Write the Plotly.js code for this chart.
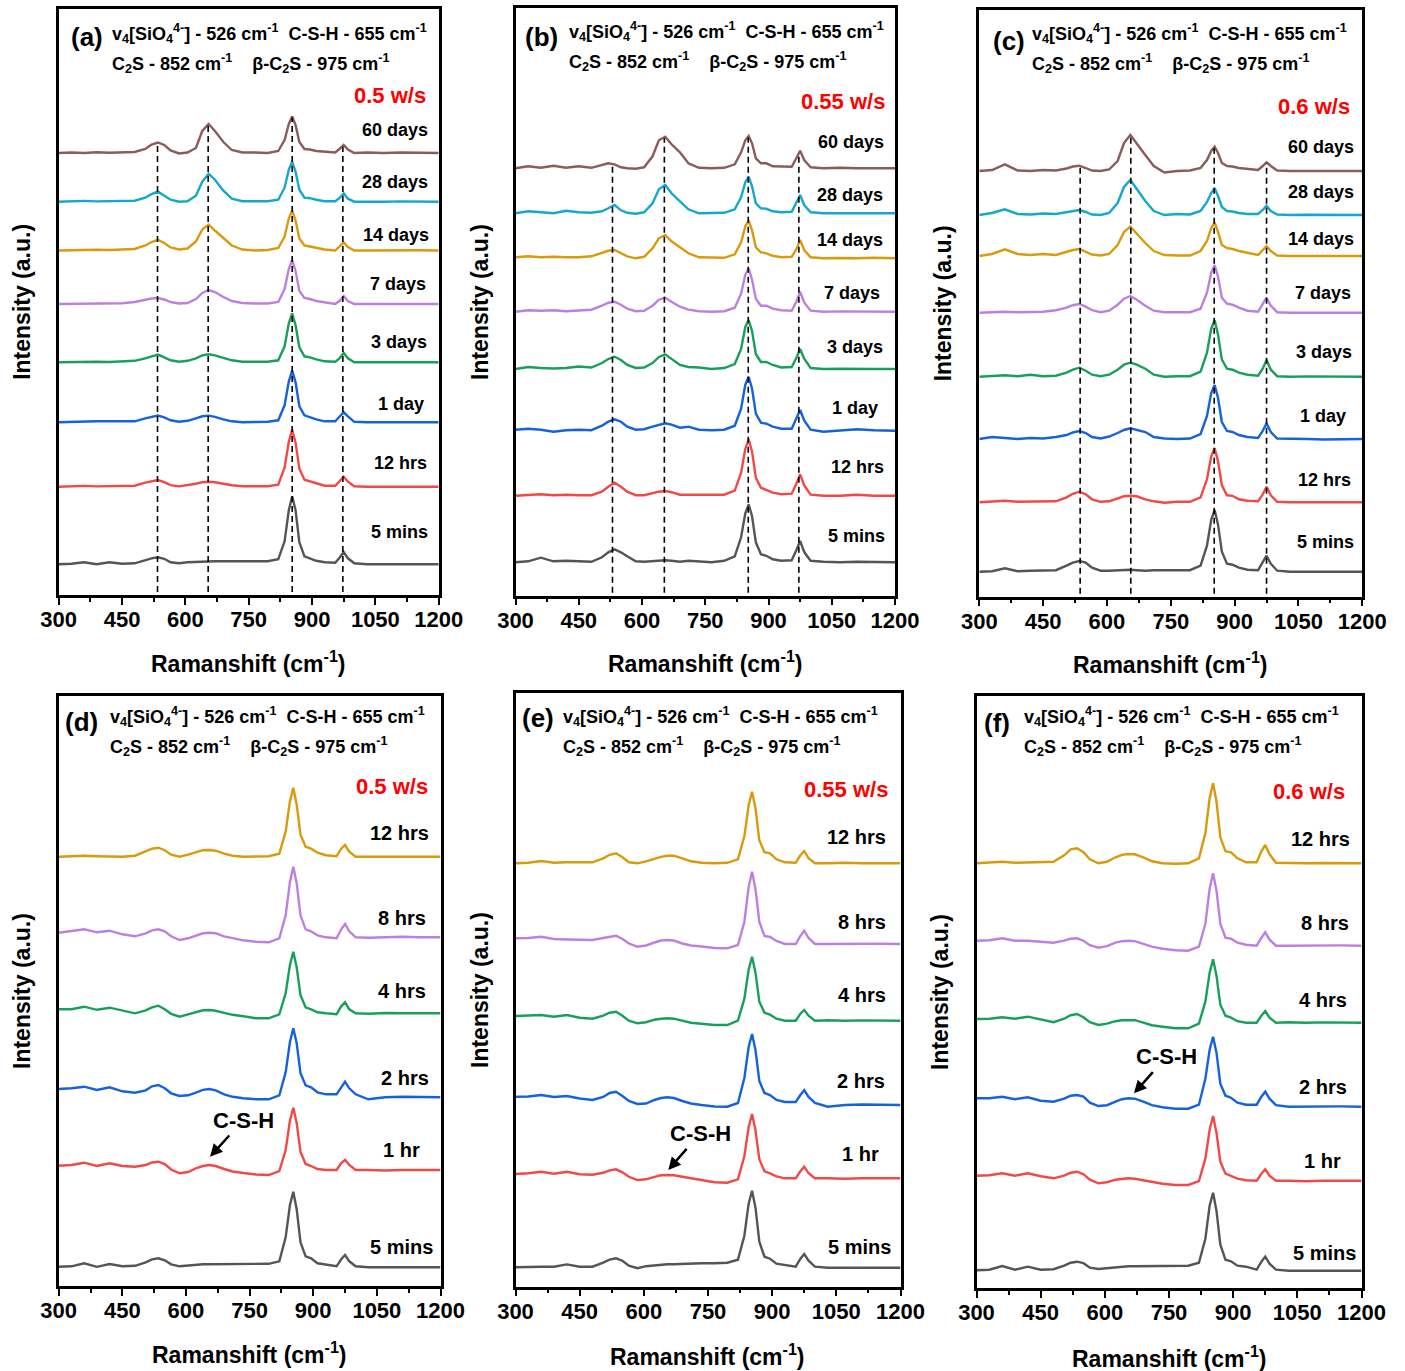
<!DOCTYPE html>
<html><head><meta charset="utf-8">
<script src="https://cdn.plot.ly/plotly-3.0.1.min.js"></script>
<style>html,body{margin:0;padding:0;background:#fff;} #chart{width:1405px;height:1371px;}</style>
</head><body><div id="chart"></div>
<script>
// ---------- DATA ----------
const ramanShift = [300, 330, 360, 390, 420, 450, 480, 505, 520, 535, 550, 565, 585, 605, 625, 640, 655, 670, 690, 710, 735, 765, 795, 820, 835, 845, 853, 861, 870, 882, 895, 910, 930, 955, 966, 975, 985, 1000, 1030, 1070, 1110, 1150, 1200];
const ramanTicks = [300, 450, 600, 750, 900, 1050, 1200];
const ramanTickLabels = ['300', '450', '600', '750', '900', '1050', '1200'];
const labelsTop = ['60 days', '28 days', '14 days', '7 days', '3 days', '1 day', '12 hrs', '5 mins'];
const labelsBottom = ['12 hrs', '8 hrs', '4 hrs', '2 hrs', '1 hr', '5 mins'];
const ratioLabels = ['0.5 w/s', '0.55 w/s', '0.6 w/s', '0.5 w/s', '0.55 w/s', '0.6 w/s'];
const panelTags = ['(a)', '(b)', '(c)', '(d)', '(e)', '(f)'];

// peak marker positions (cm-1) for panels a-c
const peakMarksA = [534, 654, 853, 973];
const peakMarksB = [530, 653, 852, 972];
const peakMarksC = [537, 656, 852, 975];

// stacking offsets (a.u.)
const offsetsA = [442, 393.3, 344.5, 291, 232.7, 172.7, 108.3, 30.7];
const offsetsB = [427.4, 382.4, 337.4, 284, 226.7, 165, 100, 33.4];
const offsetsC = [425.7, 381.7, 340.7, 284, 220, 157.7, 94.4, 25];
const offsetsD = [429.3, 348.7, 272.7, 188.7, 116, 18.7];
const offsetsE = [423.4, 342.7, 266, 181.7, 108.4, 19];
const offsetsF = [425, 342.6, 265.6, 181.6, 107.6, 17.6];

// Panel (a) 0.5 w/s, long ages
const A_60d = [0, 0.5, 0, 0.8, 0.3, 0.5, 1, 4, 8.5, 10.5, 8, 2.5, -0.5, 0.5, 5, 22, 29, 22, 11, 3, 0.5, 0.5, 0, 2, 13, 29, 36.5, 28, 11, 4, 3.5, 2, 1, 0.5, 4.5, 8, 3.5, 0, 0.5, 0, 0.5, 0, 0];
const A_28d = [0, 0.3, 0.8, 0.3, 0.5, 0.3, 1, 4, 7.5, 10, 6, 2, 0, 0.5, 6, 20, 28, 22, 11, 3, 0.5, 0.5, 0.5, 2, 14, 32, 40, 30, 12, 4, 3.5, 2, 0.5, 0.5, 4, 8.4, 3, 0, 0.3, 0, 0.3, 0, 0];
const A_14d = [0, 0.5, 0.3, 0.8, 0.5, 1, 1.5, 5, 8.5, 10.7, 7.5, 3, 1, 2, 9, 21, 26, 20, 12, 5, 1, 0, 0.5, 2.5, 14, 32, 40, 30, 12, 5, 4, 2.5, 1, 0, 4, 8, 3.5, 0, 0, 0.3, 0, 0.3, 0];
const A_7d = [0, 0.3, 0.5, 0.2, 0.5, 0.8, 2, 4.5, 5.5, 6, 4.5, 2, 0.5, 1, 5, 11, 14, 12, 7, 3, 1, 0.5, 0.5, 2, 15, 35, 44, 33, 13, 6, 5, 3, 1.5, 0, 3.5, 8, 3, 0, 0, 0, 0.3, 0, 0];
const A_3d = [0, 0.3, 0.5, 0.5, 0.3, 0.8, 1.5, 4, 6, 7.7, 5, 2, 0.5, 1.5, 4, 7, 8, 7, 4.5, 2, 0.5, 0.5, 0.5, 2, 16, 39, 49, 37, 15, 6, 5, 3, 1, 0.5, 4.5, 9.3, 4, 0, 0, 0.3, 0, 0.3, 0];
const A_1d = [0, 0.5, 0.3, 1, 1.2, 0.8, 1, 4, 5.5, 6.7, 5, 2, 0.5, 1.5, 4, 6, 6.7, 5.5, 3, 1, 0, 0.3, 0.5, 2, 17, 41, 51.7, 40, 16, 7, 5, 3, 1, 1, 6, 10, 6, 0.5, 0, 0, 0, 0, 0];
const A_12h = [0, 0.3, 0.8, 0.3, 0.5, 0.5, 1, 4, 5.5, 6.7, 4.5, 1.5, 0.3, 1.5, 3, 4.5, 5, 4.5, 3, 1.5, 0.5, 0.5, 0.5, 2, 19, 45, 57, 44, 18, 7, 5.5, 3, 1, 1, 6, 10, 5, 0.5, 0, 0, 0.3, 0, 0];
const A_5m = [0, 0.5, 2, 0, 2, 0.5, 1, 4, 6, 7, 5.5, 2, 1, 2, 2.5, 3, 3, 3, 3, 3, 3, 3, 3, 5, 23, 54, 68, 54, 22, 8, 6, 3.5, 2, 1.5, 7, 12.3, 6, 1, 0, 0.3, 0, 0, 0];

// Panel (b) 0.55 w/s
const B_60d = [0, 2, 0.5, 2.5, 0.5, 2, 0.5, 3, 5, 4, 1, 0, -0.5, 1, 12, 28, 31.6, 24, 16, 5, 0.5, 0, 0.5, 4, 16, 28, 32.3, 25, 10, 5, 5, 2, 1.5, 1.5, 10, 17.6, 8, 1, 0, 0.5, 0, 0.3, 0];
const B_28d = [0, 2, 1, 0, 2.5, 1, 0.5, 2, 5, 8.3, 3, 0.5, -0.5, 1, 10, 24, 28.3, 20, 12, 4, 0, 0.3, 0.5, 4, 16, 31, 36.6, 27, 10, 5, 4.5, 2, 1, 1.5, 10, 18.3, 8, 1, 0, 0, 0.3, 0, 0];
const B_14d = [1, 2, 1, 1.5, 1, 1, 2, 5, 7.5, 8.3, 5, 2, 0, 1.5, 10, 20, 23.3, 17, 11, 5, 1, 0.5, 0.5, 4, 16, 32, 37.6, 28, 11, 6, 5, 2.5, 1, 1.5, 9, 18.3, 8, 1, 0, 0.3, 0, 0.5, 0];
const B_7d = [0, 1.5, 1, 1.5, 0.5, 1, 2, 6, 9, 10, 7, 3, 0.5, 1, 6, 12, 14, 10, 5, 2, 0.5, 0, 0.5, 4, 18, 37, 43.4, 32, 13, 6, 6, 3, 1.5, 1, 10, 20, 9, 1, 0, 0.3, 0, 0.3, 0];
const B_3d = [0, 2, 1, 0.5, 1, 2.5, 1.5, 6, 10, 12.3, 9, 4, 1, 1.5, 6, 12, 14.7, 10, 4, 2, 1.5, 0, 1, 5, 20, 42, 49, 38, 15, 7, 7, 4, 1.5, 2, 11, 20, 10, 1, 0, 0.3, 0.5, 0, 0];
const B_1d = [1, 2, 1, -1, 0.5, 1, 0.5, 5, 9, 11.4, 9, 4, 1, 1.5, 4, 6, 7.4, 6, 3, 4, 1, 0.5, 1, 5, 22, 46, 54, 42, 17, 8, 7, 4, 2, 2, 12, 20.7, 10, 1, -1, 0, 1.5, 0.5, 0];
const B_12h = [0, 1, 1.5, 0.5, 1, 0.5, 0.5, 4, 9, 13, 9, 4, 0.5, 0.5, 2.5, 4, 4.7, 3.5, 1, 1, 1, 0.5, 1, 5, 23, 47, 56.4, 44, 18, 8, 6, 3, 1.5, 2, 12, 21.4, 10, 1, 0, 0, 1, 0, 0];
const B_5m = [0, 1, 4.6, 1, 1.5, 1, 0.5, 5, 10, 13, 10, 6, 1, 0.5, 1, 1.5, 2, 1.5, 0.5, 1.5, 1, 0, 1.5, 6, 25, 49, 58, 46, 20, 8, 6.5, 3, 1.5, 2, 12, 21.3, 10, 1.5, 0.5, 0, 0.5, 0, 0];

// Panel (c) 0.6 w/s
const C_60d = [0, 1, 6.7, 0.5, 0, 1, 0.5, 2.5, 4.5, 5.3, 3, 0.5, 0, 1.5, 10, 28, 36, 27, 16, 5, -1.5, 0, 0.5, 3, 11, 20, 24.3, 18, 8, 5, 4.5, 3, 2, 1, 5, 8.7, 5, 0.5, 0, 0, 0.5, 0, 0];
const C_28d = [0, 2, 5.7, 1, 0.5, 1.5, 1, 3, 4.5, 5, 3, 0.5, 0, 2, 12, 28, 35, 26, 14, 4, 0, 1, 0.5, 4, 13, 22, 26.7, 19, 8, 4, 3.5, 2, 1, 1, 5, 9.3, 4, 0.5, 0, 0.3, 0, 0.3, 0];
const C_14d = [0, 2, 6.7, 2, 1, 2, 1, 4, 6, 7, 4.5, 1.5, 0.5, 2, 11, 24, 29.3, 22, 13, 5, 1, 0.5, 0.5, 5, 15, 28, 33.3, 24, 11, 8, 7, 5, 3, 1, 6, 10, 5, 0.5, 0, 0, 0.3, 0, 0];
const C_7d = [0, 0.5, 1, 0.5, 1, 1, 2.5, 5, 7.5, 8.7, 6, 2.5, 0.5, 2, 8, 14, 16.7, 13, 7, 2, 0.5, 0.5, 0.5, 4, 20, 40, 47.7, 36, 15, 9, 8, 5, 2, 1, 8, 15, 7, 0.5, 0, 0, 0.3, 0, 0];
const C_3d = [0, 1, 1.5, 0.5, 2, 0.5, 1, 4, 7, 9, 6, 2, 0.5, 2, 7, 12, 14, 12, 8, 2, 0, 0.5, 0.5, 5, 24, 48, 56.5, 42, 17, 8, 7, 4, 2, 1, 8, 16.7, 7, 0.5, 0, 0.3, 0, 0, 0];
const C_1d = [0, 2, 1, 0, 1, 0.5, 2, 4, 6.5, 8, 6, 2, 0.5, 2.5, 6, 9, 10.7, 9, 7, 2, 0.5, 0, 0.5, 5, 23, 46, 54, 41, 17, 8, 7, 4, 2, 1, 8, 15.7, 7, 0.5, 0, 0, -0.5, 0, 0];
const C_12h = [0, 0.5, 1.5, 0.5, 0.5, 0.5, 1, 5, 8.5, 10.6, 8, 3, 0.5, 1, 3.5, 6, 6.6, 6, 3, 1, -0.5, 0.5, 0.5, 5, 23, 46, 54, 41, 17, 7, 6.5, 3, 1.5, 1, 8, 15.6, 7, 0.5, 0, 0, 0.3, 0, 0];
const C_5m = [0, 0.5, 3.4, 0.5, 1, 1, 1.5, 6, 9, 10.7, 9, 4, 1, 1, 1.5, 2, 2, 1.5, 1, 1.5, 1.5, 1.5, 1.5, 6, 26, 52, 61.7, 47, 20, 8, 7, 4, 2, 1.5, 9, 16, 8, 1, 0, 0, 0, 0, 0];

// Panel (d) 0.5 w/s, early ages
const D_12h = [0, 0.5, 1, 0.5, 0.5, 0, 1, 5, 8, 9, 6.5, 2, 0, 2, 5, 6.5, 6.7, 6, 3, 1, 0, 0, 0.5, 3, 25, 55, 69, 52, 22, 10, 8, 4, 1.5, 0.5, 8, 11.7, 5, 0, 0, 0, 0.5, 0, 0];
const D_8h = [4.6, 6, 8, 5, 6.6, 3, 1, 4, 7, 8, 6, 1, -2.7, -1, 2, 4, 4.6, 4, 1, -1, -3, -4.5, -5, -1, 22, 55, 70.6, 54, 22, 8, 6, 2, 0, -1, 8, 13.3, 6, 0, -0.5, 0, 0.5, 0, 0];
const D_4h = [4, 4, 6.6, 3.5, 5.6, 3, 0, 3, 6, 7.6, 4, -0.5, -3.4, -1, 1.5, 3, 3.3, 2.5, 0.5, -1.5, -3, -5, -5, -1, 20, 48, 61.6, 46, 18, 6, 4, 1, 0, -1, 7, 11, 4, 0, -0.5, 0.3, 0, 0.3, 0];
const D_2h = [8.3, 9, 10.6, 7.3, 10, 6, 4.6, 7, 11, 12.3, 9, 4, 1.3, 2, 5, 7.5, 8.3, 7, 3, 0.5, -1, -2, -2, 2, 25, 55, 69, 54, 24, 12, 10, 5, 3, 3, 10, 15.6, 9, 3, -2, 0, 0.5, 0, 0];
const D_1h = [4.3, 5, 7.3, 4, 6.7, 4, 3.3, 5, 7.5, 8.3, 6, 0.5, -3.3, -2, 2, 4, 5, 4, 1, -1.5, -3, -4.5, -5, -1, 20, 49, 62.3, 47, 18, 6, 4, 1, 0, 0, 7, 10, 5, 0, 0, -0.5, 0, 0.3, 0];
const D_5m = [0.5, 1, 4, 0.5, 3.3, 1, 1.5, 5, 8, 9, 7, 3, 1, 2, 2.5, 3, 3, 3, 3, 3, 3, 3, 3.5, 6, 30, 62, 75.6, 58, 25, 11, 9, 4, 3, 1, 8, 12.3, 6, 1, 0, 0, 0.3, 0, 0];

// Panel (e) 0.55 w/s, early ages
const E_12h = [0, 0.5, 2.3, 0.5, 1, 1, 1, 5, 8.5, 10, 6, 1, 0, 2, 5, 6.5, 7.5, 7.6, 5, 2, 0.5, 0, 0.5, 4, 27, 58, 71.6, 55, 23, 11, 10, 4, 1, 0.5, 8, 12.3, 5, 0, 0, 0.5, 0, 0.3, 0];
const E_8h = [5.7, 6, 7.3, 5, 4.5, 4, 4, 6, 7.5, 8.3, 5, 0.5, -2.7, -1.5, 1.5, 3.5, 4, 3.5, 0.5, -1.5, -2.5, -4, -4.3, -1, 22, 57, 72.3, 55, 22, 8, 7, 3, 0, 0, 8, 13.3, 6, 0, 0, 0.3, 0, 0.3, 0];
const E_4h = [4.7, 5, 5.7, 4, 5.7, 3, 2, 5, 8, 9, 5, 0, -2.6, -1.5, 1, 2, 2.4, 2, 0, -2, -3, -4.3, -4.3, 0, 22, 51, 64, 48, 19, 8, 6, 2, 0, 0, 7, 10.7, 5, 0, 0.5, 0, 0.3, 0, 0];
const E_2h = [8.3, 8.5, 10, 8, 9, 6.5, 5, 8, 12, 13.3, 9, 4, 1, 1.5, 5, 7, 7.7, 7, 4, 1.5, 0, -1.5, -1.7, 2, 27, 58, 71, 55, 24, 12, 10, 5, 3, 3, 10, 15, 8, 2, -1.7, 0, 0.5, 0, 0];
const E_1h = [4.3, 5, 6.6, 4.5, 6.6, 4, 3.5, 5.5, 8, 9, 6, 1.5, -1.7, -1, 1.5, 3, 3.3, 3, 1.5, 0, -2, -4, -4.4, -1, 22, 51, 64.3, 48, 19, 7, 5, 2, 0, 0, 7, 11.6, 5, 0, 0, -0.5, 0, 0.3, 0];
const E_5m = [0.5, 1, 1, 1, 3.3, 1, 1, 5, 8, 9.4, 7, 2, -0.5, 1.5, 2.5, 3, 3.5, 3.5, 4, 4, 4.4, 4.4, 5, 8, 32, 64, 77, 60, 26, 11, 9, 4, 3, 1, 9, 13.7, 7, 1, 0, 0, 0.3, 0, 0];

// Panel (f) 0.6 w/s, early ages
const F_12h = [0, 0.5, 1.5, 0.5, 1, 1, 1.5, 8, 14, 15, 11, 4, 0, 1.5, 6, 8.5, 9.3, 9, 6, 2, 0, -0.5, 0, 5, 30, 65, 80, 62, 26, 12, 11, 5, 1, 1, 12, 18.3, 9, 0.5, 0, 0, 0.3, 0, 0];
const F_8h = [5, 5.5, 7.4, 5, 5, 4, 3, 5, 7, 7.4, 5, 0.5, -2, -0.5, 3, 4.5, 5, 4.5, 1.5, -1, -3, -4.5, -5, -1, 22, 57, 72.4, 55, 22, 8, 7, 3, 1, 0, 8, 13.4, 6, 0, 0, 0.3, 0, 0.3, 0];
const F_4h = [3.7, 4, 5.4, 4, 6, 3, 0.5, 4, 7.5, 8.7, 5.5, 0.5, -2.3, -1, 1.5, 2.5, 2.7, 2.5, 0, -2.5, -4, -5.6, -5.6, -1, 21, 50, 63.4, 47, 18, 7, 5, 1.5, 0, 0, 7, 11.7, 5, 0, 0.5, 0, 0.3, 0, 0];
const F_2h = [8.4, 8.5, 10, 7.5, 9.4, 6, 5, 8, 11, 11.7, 10, 4, 0.7, 1.5, 5, 7.5, 8.4, 8, 5, 1.5, -0.5, -2, -2, 2, 28, 57, 70, 54, 23, 11, 9, 4, 2, 2, 10, 15, 8, 1.5, 0, 0.3, 0, 0.3, 0];
const F_1h = [5, 5.5, 7.4, 5, 7.4, 4.5, 2.4, 5, 8, 9, 6.5, 1, -2.6, -1.5, 1, 2, 2.4, 2, 0.5, -1.5, -3, -4.3, -4.3, -0.5, 22, 51, 64.7, 48, 19, 7, 5, 2, 0.5, 0, 7, 11.4, 5, 0, 0, -0.5, 0, 0.3, 0];
const F_5m = [0.5, 1, 4.7, 1, 4, 1, 1.5, 5, 8, 9, 7.5, 3, 1.7, 2.5, 3.5, 4, 4.5, 4.5, 4.5, 4.6, 4.6, 4.6, 5, 8, 32, 65, 78, 60, 26, 11, 9.4, 5, 4, 1, 9, 14, 7, 1, 0, 0, 0, 0, 0];

// ---------- STYLE / LAYOUT ----------
const W = 1405, H = 1371;
const FONT = 'Arial, "Liberation Sans", sans-serif';
const colorsTop = ['#8C5B5B', '#14A8CB', '#D99A0C', '#BE80E0', '#18A05B', '#1662DC', '#F24848', '#555555'];
const colorsBottom = ['#D99A0C', '#BE80E0', '#18A05B', '#1662DC', '#F24848', '#555555'];
const fx = p => p / W;
const fy = p => 1 - p / H;

const panels = [
  {series: [A_60d, A_28d, A_14d, A_7d, A_3d, A_1d, A_12h, A_5m], offsets: offsetsA, labels: labelsTop, colors: colorsTop, marks: peakMarksA,
   box: [58.7, 9.3, 438.7, 595], tag: [87, 36.7], l1: [110, 33.3], l2: [110, 63.3], ratio: [428.3, 95.7],
   lab: [[430,130],[430,181.7],[430.7,235],[428.3,284.3],[429.3,342.3],[426,404],[429,463.3],[430,532.3]], yt: 21.7, xt: 661.7, lfs: 18},
  {series: [B_60d, B_28d, B_14d, B_7d, B_3d, B_1d, B_12h, B_5m], offsets: offsetsB, labels: labelsTop, colors: colorsTop, marks: peakMarksB,
   box: [515.5, 8.3, 895, 595.7], tag: [541.7, 36.7], l1: [566.7, 31.7], l2: [566.7, 61.7], ratio: [886.7, 101.7],
   lab: [[886,141.7],[885,195],[885,240],[882.3,293.3],[885,347.3],[880,407.7],[885.7,466.7],[887.3,535.7]], yt: 480, xt: 661.7, lfs: 18},
  {series: [C_60d, C_28d, C_14d, C_7d, C_3d, C_1d, C_12h, C_5m], offsets: offsetsC, labels: labelsTop, colors: colorsTop, marks: peakMarksC,
   box: [979.3, 10, 1362.3, 596.7], tag: [1009.3, 40.7], l1: [1030, 33.3], l2: [1030, 63.3], ratio: [1351.7, 106.7],
   lab: [[1356,146.7],[1356,192.3],[1356,239],[1352.7,293.3],[1354,352.3],[1348.3,416],[1352.7,480],[1355.7,542.3]], yt: 943, xt: 663.3, lfs: 18},
  {series: [D_12h, D_8h, D_4h, D_2h, D_1h, D_5m], offsets: offsetsD, labels: labelsBottom, colors: colorsBottom, marks: [],
   box: [58.7, 696, 440.5, 1286], tag: [81.7, 721.7], l1: [108.3, 716], l2: [108.3, 746], ratio: [430, 786.7],
   lab: [[431,833.3],[428.3,918.3],[427.7,991],[431,1078.3],[421.7,1150],[435,1247.3]], yt: 22, xt: 1353.3, lfs: 20,
   arrow: {head: [210, 1156.7], text: [243.3, 1120]}},
  {series: [E_12h, E_8h, E_4h, E_2h, E_1h, E_5m], offsets: offsetsE, labels: labelsBottom, colors: colorsBottom, marks: [],
   box: [515.5, 693.3, 900.5, 1286.7], tag: [538.3, 718.3], l1: [560.7, 716], l2: [560.7, 746], ratio: [890, 789],
   lab: [[888.3,836.7],[888.3,921.7],[888.3,995],[886.7,1080.7],[881,1154],[892.7,1247.3]], yt: 480, xt: 1355, lfs: 20,
   arrow: {head: [668.3, 1170], text: [700, 1133.3]}},
  {series: [F_12h, F_8h, F_4h, F_2h, F_1h, F_5m], offsets: offsetsF, labels: labelsBottom, colors: colorsBottom, marks: [],
   box: [976.5, 695.7, 1361.5, 1288.3], tag: [996.7, 723.3], l1: [1021.7, 716.7], l2: [1021.7, 746], ratio: [1346.7, 791.7],
   lab: [[1352.3,839],[1350.7,923.3],[1349.3,1000],[1349.3,1086.7],[1343.3,1160.7],[1357.7,1253.3]], yt: 940, xt: 1356.7, lfs: 20,
   arrow: {head: [1134, 1093.3], text: [1166.7, 1056.7]}}
];

function interp(xs, ys, x) {
  for (let i = 0; i < xs.length - 1; i++) {
    if (x >= xs[i] && x <= xs[i + 1]) {
      const t = (x - xs[i]) / (xs[i + 1] - xs[i]);
      return ys[i] + t * (ys[i + 1] - ys[i]);
    }
  }
  return ys[ys.length - 1];
}

const line1 = 'v<sub>4</sub>[SiO<sub>4</sub><sup>4-</sup>] - 526 cm<sup>-1</sup>\u00a0\u00a0C-S-H - 655 cm<sup>-1</sup>';
const line2 = 'C<sub>2</sub>S - 852 cm<sup>-1</sup>\u00a0\u00a0\u00a0\u00a0\u03b2-C<sub>2</sub>S - 975 cm<sup>-1</sup>';

const traces = [];
const shapes = [];
const annotations = [];
const layout = {
  width: W, height: H, margin: {l: 0, r: 0, t: 0, b: 0},
  paper_bgcolor: '#fff', plot_bgcolor: '#fff', showlegend: false,
  font: {family: FONT, color: '#000', size: 16}
};

panels.forEach((p, k) => {
  const n = k + 1;
  const xa = n === 1 ? 'x' : 'x' + n;
  const ya = n === 1 ? 'y' : 'y' + n;
  const [L, T, R, B] = p.box;
  const yTop = B - T;
  layout[n === 1 ? 'xaxis' : 'xaxis' + n] = {
    domain: [fx(L), fx(R)], anchor: ya, range: [300, 1200],
    tickmode: 'array', tickvals: ramanTicks, ticktext: ramanTickLabels,
    ticks: 'outside', ticklen: 7, tickwidth: 2, tickcolor: '#000', ticklabelstandoff: -4,
    minor: {dtick: 75, tick0: 300, ticks: 'outside', ticklen: 4, tickwidth: 2, tickcolor: '#000', showgrid: false},
    showline: true, linewidth: 2.5, linecolor: '#000', mirror: true,
    showgrid: false, zeroline: false, automargin: false,
    tickfont: {family: FONT, size: 22, color: '#000', weight: 'bold'}
  };
  layout[n === 1 ? 'yaxis' : 'yaxis' + n] = {
    domain: [fy(B), fy(T)], anchor: xa, range: [0, yTop],
    showticklabels: false, ticks: '', showline: true, linewidth: 2.5, linecolor: '#000',
    mirror: true, showgrid: false, zeroline: false, automargin: false
  };
  p.series.forEach((s, i) => {
    if (s.length !== ramanShift.length) throw new Error('length mismatch panel ' + n + ' series ' + i + ': ' + s.length);
    traces.push({
      type: 'scatter', mode: 'lines', x: ramanShift, y: s.map(v => v + p.offsets[i]),
      xaxis: xa, yaxis: ya, name: p.labels[i],
      line: {color: p.colors[i], width: 2.4}, hoverinfo: 'x+y+name'
    });
    annotations.push({
      xref: 'paper', yref: 'paper', x: fx(p.lab[i][0]), y: fy(p.lab[i][1]),
      xanchor: 'right', yanchor: 'middle', showarrow: false, text: p.labels[i],
      font: {family: FONT, size: p.lfs, color: '#000', weight: 'bold'}
    });
  });
  // dashed peak markers
  p.marks.forEach(m => {
    const top = interp(ramanShift, p.series[0], m) + p.offsets[0] - 1;
    shapes.push({type: 'line', xref: xa, yref: ya, x0: m, x1: m, y0: 3, y1: top,
      line: {color: '#000', width: 1.6, dash: '6px,4px'}});
  });
  // header texts
  annotations.push({xref: 'paper', yref: 'paper', x: fx(p.tag[0]), y: fy(p.tag[1]), xanchor: 'center', yanchor: 'middle',
    showarrow: false, text: panelTags[k], font: {family: FONT, size: 26, color: '#000', weight: 'bold'}});
  annotations.push({xref: 'paper', yref: 'paper', x: fx(p.l1[0]), y: fy(p.l1[1]), xanchor: 'left', yanchor: 'middle',
    showarrow: false, text: line1, font: {family: FONT, size: 18, color: '#000', weight: 'bold'}});
  annotations.push({xref: 'paper', yref: 'paper', x: fx(p.l2[0]), y: fy(p.l2[1]), xanchor: 'left', yanchor: 'middle',
    showarrow: false, text: line2, font: {family: FONT, size: 18, color: '#000', weight: 'bold'}});
  annotations.push({xref: 'paper', yref: 'paper', x: fx(p.ratio[0]), y: fy(p.ratio[1]), xanchor: 'right', yanchor: 'middle',
    showarrow: false, text: ratioLabels[k], font: {family: FONT, size: 22, color: '#FF0000', weight: 'bold'}});
  // axis titles
  annotations.push({xref: 'paper', yref: 'paper', x: fx((L + R) / 2), y: fy(p.xt), xanchor: 'center', yanchor: 'middle',
    showarrow: false, text: 'Ramanshift (cm<sup>-1</sup>)', font: {family: FONT, size: 23, color: '#000', weight: 'bold'}});
  annotations.push({xref: 'paper', yref: 'paper', x: fx(p.yt), y: fy((T + B) / 2), xanchor: 'center', yanchor: 'middle',
    textangle: -90, showarrow: false, text: 'Intensity (a.u.)', font: {family: FONT, size: 23, color: '#000', weight: 'bold'}});
  if (p.arrow) {
    annotations.push({xref: 'paper', yref: 'paper', x: fx(p.arrow.head[0]), y: fy(p.arrow.head[1]),
      ax: p.arrow.text[0] - p.arrow.head[0], ay: p.arrow.text[1] - p.arrow.head[1],
      text: 'C-S-H', showarrow: true, arrowhead: 2, arrowsize: 1, arrowwidth: 2.5, arrowcolor: '#000',
      standoff: 0, startstandoff: 2,
      font: {family: FONT, size: 22, color: '#000', weight: 'bold'}});
  }
});
layout.shapes = shapes;
layout.annotations = annotations;

Plotly.newPlot('chart', traces, layout, {displayModeBar: false, responsive: false});
</script>
</body></html>
